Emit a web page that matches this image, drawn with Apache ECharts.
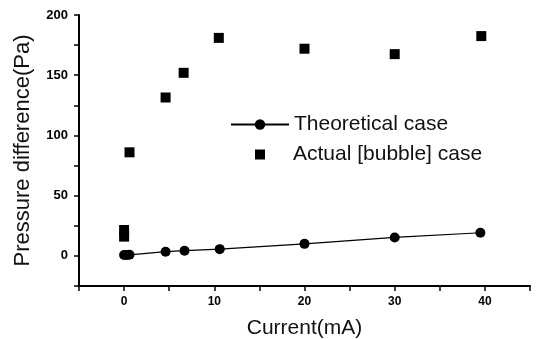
<!DOCTYPE html>
<html>
<head>
<meta charset="utf-8">
<script src="https://cdn.jsdelivr.net/npm/echarts@6/dist/echarts.min.js"></script>
<style>
  html, body { margin: 0; padding: 0; background: #fff; }
  #chart { width: 539px; height: 339px; }
</style>
</head>
<body>
<div id="chart"></div>
<script>
// values: [current (mA), pressure difference (Pa)]
const theoreticalData = [
    [0, 0.8], [0.3, 0.8], [0.6, 0.9], [4.6, 3.5], [6.7, 4.3],
    [10.6, 5.6], [20, 10], [30, 15.3], [39.5, 19.2]
];
const actualData = [
    [0, 21.5], [0, 16], [0.6, 86], [4.6, 131.5], [6.6, 152],
    [10.5, 181], [20, 172], [30, 167.5], [39.6, 182.5]
];
const seriesNames = ['Theoretical case', 'Actual [bubble] case'];

const chart = echarts.init(document.getElementById('chart'));

const legendText = { color: '#111', fontSize: 21, fontFamily: 'Liberation Sans' };

const axisCommon = {
    axisLine: { onZero: false, lineStyle: { color: '#000', width: 2 } },
    axisTick: { lineStyle: { color: '#000', width: 1.5 }, length: 5 },
    splitLine: { show: false },
    nameTextStyle: { color: '#111', fontFamily: 'Liberation Sans' },
    axisLabel: { color: '#000', fontWeight: 'bold', fontFamily: 'Liberation Sans' }
};

chart.setOption({
    animation: false,
    backgroundColor: '#fff',
    grid: { left: 79, right: 9, top: 15, bottom: 53, outerBoundsMode: 'none' },
    legend: [
        {
            left: 230,
            top: 114,
            padding: 0,
            itemWidth: 58,
            itemHeight: 13,
            textStyle: legendText,
            data: [seriesNames[0]]
        },
        {
            left: 255,
            top: 144,
            padding: 0,
            itemWidth: 10,
            itemHeight: 10,
            textStyle: Object.assign({}, legendText, { padding: [0, 0, 0, 23] }),
            data: [{ name: seriesNames[1], icon: 'rect' }]
        }
    ],
    xAxis: Object.assign({}, axisCommon, {
        type: 'value',
        min: -5,
        max: 45,
        interval: 5,
        name: 'Current(mA)',
        nameLocation: 'middle',
        nameGap: 32,
        nameTextStyle: Object.assign({}, axisCommon.nameTextStyle, { fontSize: 21 }),
        axisLabel: Object.assign({}, axisCommon.axisLabel, {
            fontSize: 12,
            margin: 10,
            formatter: v => (v % 10 === 0 ? String(v) : '')
        })
    }),
    yAxis: Object.assign({}, axisCommon, {
        type: 'value',
        min: -25,
        max: 200,
        interval: 25,
        name: 'Pressure difference(Pa)',
        nameLocation: 'middle',
        nameGap: 45,
        nameTextStyle: Object.assign({}, axisCommon.nameTextStyle, { fontSize: 22 }),
        axisLabel: Object.assign({}, axisCommon.axisLabel, {
            fontSize: 13,
            margin: 11,
            formatter: v => (v % 50 === 0 ? String(v) : '')
        })
    }),
    series: [
        {
            name: seriesNames[0],
            type: 'line',
            data: theoreticalData,
            symbol: 'circle',
            symbolSize: 10,
            itemStyle: { color: '#000' },
            lineStyle: { color: '#000', width: 1.2 }
        },
        {
            name: seriesNames[1],
            type: 'scatter',
            data: actualData,
            symbol: 'rect',
            symbolSize: 10,
            itemStyle: { color: '#000', opacity: 1 }
        }
    ]
});
</script>
</body>
</html>
